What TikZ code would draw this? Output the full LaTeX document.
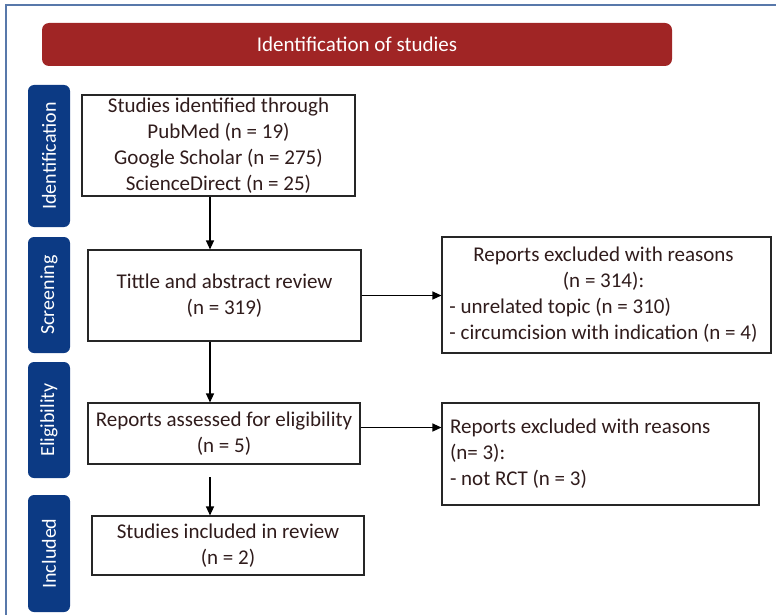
\documentclass[tikz,border=0pt]{standalone}
\usepackage{fontspec}
\setmainfont{Carlito}
\usepackage{tikz}
\usetikzlibrary{arrows.meta,positioning,calc}
\definecolor{framesteel}{RGB}{88,120,170}
\definecolor{bannerred}{RGB}{160,37,37}
\definecolor{phaseblue}{RGB}{12,58,132}
\definecolor{inkbrown}{RGB}{48,28,28}
\tikzset{
  stagebox/.style={draw=black!85,line width=1.1pt,fill=white,align=center,inner sep=0pt,
    font=\fontsize{21}{26}\selectfont,text=inkbrown},
  phasetab/.style={fill=phaseblue,rounded corners=6pt,minimum height=42pt,inner sep=0pt,
    text=white,font=\fontsize{20}{24}\selectfont,rotate=90},
  bannerbox/.style={fill=bannerred,rounded corners=7pt,minimum width=630pt,minimum height=43pt,
    text=white,font=\fontsize{21}{24}\selectfont},
  flow/.style={-{Triangle[length=9pt,width=8pt]},line width=1.2pt,draw=black},
  pageframe/.style={line width=1.2pt,draw=framesteel}
}

\begin{document}
\begin{tikzpicture}[x=1pt,y=-1pt]
  \useasboundingbox (0,0) rectangle (776,615);
  \draw[pageframe] (6,615) -- (6,5) -- (776,5);
  \node[bannerbox] (banner) at (357,44.5) {Identification of studies};
  % phase tabs on the left
  \node[phasetab,minimum width=142pt] (tabid) at (49,156) {Identification};
  \node[phasetab,minimum width=116pt] (tabscr) at (49,295) {Screening};
  \node[phasetab,minimum width=116pt] (tabelig) at (49,420) {Eligibility};
  \node[phasetab,minimum width=117pt] (tabinc) at (49,553.5) {Included};
  % main column
  \node[stagebox,minimum width=273pt,minimum height=101pt] (found) at (218.5,145.5)
    {Studies identified through\\PubMed (n = 19)\\Google Scholar (n = 275)\\ScienceDirect (n = 25)};
  \node[stagebox,minimum width=273pt,minimum height=91pt] (screen) at (224.5,295.5)
    {Tittle and abstract review\\(n = 319)};
  \node[stagebox,minimum width=272pt,minimum height=61pt] (assess) at (224,433.5)
    {Reports assessed for eligibility\\(n = 5)};
  \node[stagebox,minimum width=272pt,minimum height=59pt] (incl) at (228,545.5)
    {Studies included in review\\(n = 2)};
  % exclusions
  \node[stagebox,minimum width=329pt,minimum height=116pt] (excla) at (606.5,295)
    {\makebox[302pt][r]{\begin{tabular}{@{}l@{}}
      \multicolumn{1}{@{}c@{}}{Reports excluded with reasons}\\
      \multicolumn{1}{@{}c@{}}{(n = 314):}\\
      - unrelated topic (n = 310)\\
      - circumcision with indication (n = 4)
    \end{tabular}}};
  \node[stagebox,minimum width=317pt,minimum height=102pt] (exclb) at (600.5,454)
    {\makebox[301pt][l]{\begin{tabular}{@{}l@{}}
      Reports excluded with reasons\\
      (n= 3):\\
      - not RCT (n = 3)
    \end{tabular}}};
  % arrows
  \coordinate (spine) at (210,0);
  \coordinate (gapstart) at (210,477);
  \coordinate (eligout) at ([yshift=6pt]assess.east);
  \draw[flow] (found.south -| spine) -- (screen.north -| spine);
  \draw[flow] (screen.south -| spine) -- (assess.north -| spine);
  \draw[flow] (gapstart) -- (incl.north -| spine);
  \draw[flow] (screen.east) -- (screen.east -| excla.west);
  \draw[flow] (eligout) -- (eligout -| exclb.west);
\end{tikzpicture}
\end{document}
